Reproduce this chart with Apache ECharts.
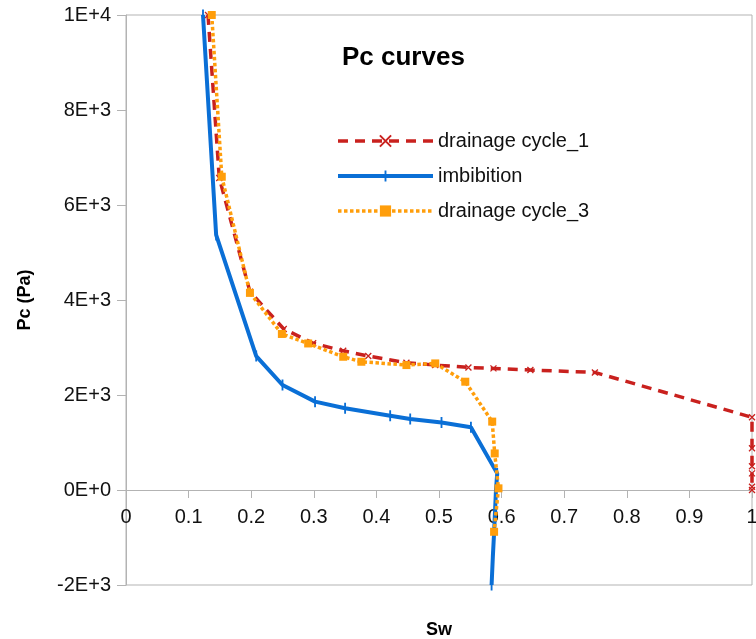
<!DOCTYPE html>
<html>
<head>
<meta charset="utf-8">
<script src="https://cdn.jsdelivr.net/npm/echarts@6/dist/echarts.min.js"></script>
<style>
  html, body { margin: 0; padding: 0; background: #fff; }
  #chart { width: 756px; height: 639px; }
</style>
</head>
<body>
<div id="chart"></div>
<script>
// Capillary pressure curves: water saturation (Sw) vs capillary pressure (Pa)
const seriesNames = ['drainage cycle_1', 'imbibition', 'drainage cycle_3'];

const drainage1 = [
  [0.131, 10000], [0.149, 6570], [0.198, 4175], [0.252, 3390], [0.299, 3090],
  [0.347, 2930], [0.387, 2820], [0.448, 2680], [0.494, 2630], [0.547, 2580],
  [0.587, 2560], [0.646, 2525], [0.749, 2475], [1.0, 1530], [1.0, 880],
  [1.0, 500], [1.0, 350], [1.0, 70], [1.0, 0]
];

const imbibition = [
  [0.123, 10000], [0.144, 5370], [0.208, 2820], [0.250, 2210], [0.302, 1860],
  [0.350, 1720], [0.422, 1565], [0.454, 1495], [0.504, 1420], [0.551, 1320],
  [0.593, 350], [0.591, 0], [0.588, -900], [0.586, -1410], [0.584, -2000]
];

const drainage3 = [
  [0.137, 10000], [0.153, 6595], [0.198, 4150], [0.249, 3285], [0.291, 3085],
  [0.347, 2805], [0.376, 2700], [0.448, 2630], [0.494, 2665], [0.542, 2280],
  [0.585, 1440], [0.589, 770], [0.595, 35], [0.588, -880]
];

const xTicks = [0, 0.1, 0.2, 0.3, 0.4, 0.5, 0.6, 0.7, 0.8, 0.9, 1];
const yTickValues = [-2000, 0, 2000, 4000, 6000, 8000, 10000];
const yTickLabels = ['-2E+3', '0E+0', '2E+3', '4E+3', '6E+3', '8E+3', '1E+4'];

const colors = ['#c9211e', '#0a6fd6', '#ff9e0b'];
const FONT = '"Liberation Sans", Arial, sans-serif';
const axisGray = '#b3b3b3';

// Marker shapes: a thin "x" cross, and a vertical bar inside a square box
// (tiny corner specks keep the bar's bounding box square).
const crossSymbol = 'path://M0,0L10,10M10,0L0,10';
const barSymbol = 'path://M0,0L0.01,0L0,0.01Z M5,0L7,0L7,12L5,12Z M11.99,12L12,12L12,11.99Z';

// Plot box geometry; the Sw axis sits on the Pc = 0 line
const gridTop = 15, gridHeight = 570;
const yMin = -2000, yMax = 10000;
const zeroOffset = gridHeight * (0 - yMin) / (yMax - yMin);

const chart = echarts.init(document.getElementById('chart'));

chart.setOption({
  animation: false,
  textStyle: { fontFamily: FONT },
  title: {
    text: 'Pc curves',
    left: 337, top: 40,
    textStyle: { fontFamily: FONT, fontSize: 26, fontWeight: 'bold', color: '#000' }
  },
  legend: {
    orient: 'vertical',
    left: 331, top: 126,
    itemWidth: 95, itemHeight: 14, itemGap: 15,
    lineStyle: { width: 'inherit' },
    textStyle: { fontFamily: FONT, fontSize: 20, color: '#111' },
    data: seriesNames
  },
  grid: {
    left: 126, top: gridTop, width: 626, height: gridHeight,
    outerBoundsMode: 'none',
    show: true, borderColor: axisGray, borderWidth: 1, containLabel: false
  },
  xAxis: {
    type: 'value', min: 0, max: 1, interval: 0.1,
    position: 'bottom', offset: -zeroOffset,
    name: 'Sw', nameLocation: 'middle', nameGap: 131,
    nameTextStyle: { fontFamily: FONT, fontSize: 18, fontWeight: 'bold', color: '#000' },
    axisLine: { show: true, onZero: false, lineStyle: { color: axisGray, width: 1 } },
    axisTick: { show: true, inside: false, length: 8, lineStyle: { color: axisGray } },
    axisLabel: {
      margin: 17, fontSize: 20, color: '#111', fontFamily: FONT,
      formatter: v => {
        const i = xTicks.findIndex(t => Math.abs(t - v) < 1e-9);
        return i >= 0 ? String(xTicks[i]) : '';
      }
    },
    splitLine: { show: false }
  },
  yAxis: {
    type: 'value', min: yMin, max: yMax, interval: 2000,
    name: 'Pc (Pa)', nameLocation: 'middle', nameGap: 92, nameRotate: 90,
    nameTextStyle: { fontFamily: FONT, fontSize: 18, fontWeight: 'bold', color: '#000' },
    axisLine: { show: true, onZero: false, lineStyle: { color: axisGray, width: 1 } },
    axisTick: { show: true, inside: false, length: 9, lineStyle: { color: axisGray } },
    axisLabel: {
      margin: 15, fontSize: 20, color: '#111', fontFamily: FONT,
      formatter: v => {
        const i = yTickValues.indexOf(Math.round(v));
        return i >= 0 ? yTickLabels[i] : '';
      }
    },
    splitLine: { show: false }
  },
  series: [
    {
      name: seriesNames[0], type: 'line', data: drainage1, z: 3,
      symbol: crossSymbol, symbolSize: 6, showAllSymbol: true,
      lineStyle: { color: colors[0], width: 3.5, type: [10, 7] },
      itemStyle: { color: 'rgba(0,0,0,0)', borderColor: colors[0], borderWidth: 1.3 }
    },
    {
      name: seriesNames[1], type: 'line', data: imbibition, z: 2,
      symbol: barSymbol, symbolSize: 11, showAllSymbol: true,
      lineStyle: { color: colors[1], width: 4 },
      itemStyle: { color: colors[1] }
    },
    {
      name: seriesNames[2], type: 'line', data: drainage3, z: 4,
      symbol: 'rect', symbolSize: 8, showAllSymbol: true,
      lineStyle: { color: colors[2], width: 3.5, type: [3.5, 2.5] },
      itemStyle: { color: colors[2] }
    }
  ]
});
</script>
</body>
</html>
